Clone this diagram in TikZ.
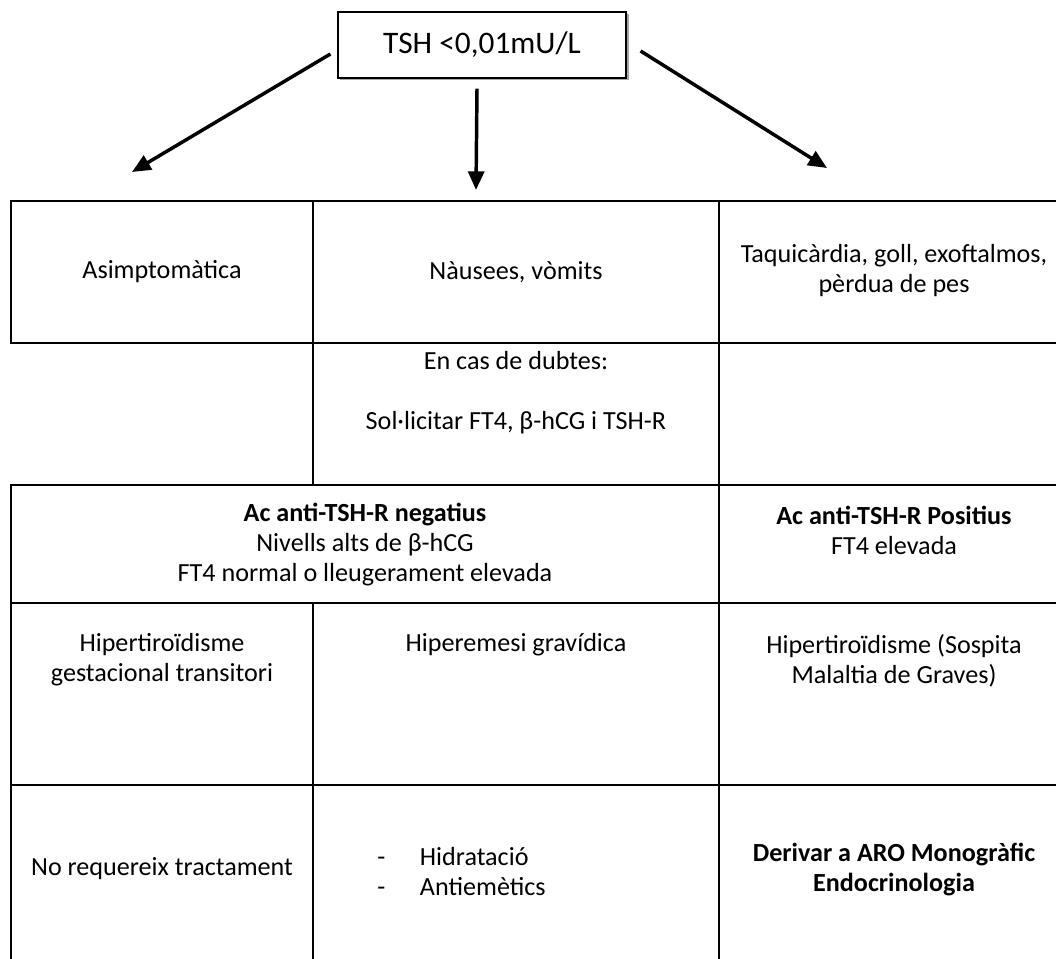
\documentclass[tikz,border=0pt]{standalone}
\usepackage{fontspec}
\setmainfont{Carlito}
\usetikzlibrary{arrows.meta,positioning}
\newcommand\cellfont{\fontsize{19.6}{22.5}\selectfont}
\begin{document}
\begin{tikzpicture}[x=0.75pt,y=-0.75pt,
  cell/.style={align=center, inner sep=0pt, font=\cellfont},
  rule/.style={line width=1.6pt, line cap=rect},
  arr/.style={line width=2.6pt, -{Triangle[length=14pt,width=12pt]}}]
\useasboundingbox (0,0) rectangle (1056,959);
\pgfmathsetmacro\colA{162}
\pgfmathsetmacro\colB{516}
\pgfmathsetmacro\colC{894}
\fill[gray!70] (340,14) rectangle (628.5,80.5);
\node[draw, fill=white, line width=0.9pt, minimum width=216pt, minimum height=49.5pt,
  cell, font=\fontsize{23.5}{26}\selectfont] (tsh) at (482,45) {TSH <0,01mU/L};
\coordinate (tipL) at (132,172);
\coordinate (tipM) at (476,190);
\coordinate (tipR) at (827,168);
\draw[arr] ([shift={(-7,9)}]tsh.west) -- (tipL);
\draw[arr] ([shift={(-5,10)}]tsh.south) -- (tipM);
\draw[arr] ([shift={(14,6)}]tsh.east) -- (tipR);
\foreach \y in {201,343,485,603,785} \draw[rule] (11,\y) -- (1060,\y);
\draw[rule] (11,201) -- (11,343) (11,485) -- (11,962);
\draw[rule] (313,201) -- (313,485) (313,603) -- (313,962);
\draw[rule] (719,201) -- (719,962);
\node[cell] (asim) at (\colA,272) {Asimptomàtica};
\node[cell] (naus) at (\colB,272) {Nàusees, vòmits};
\node[cell] (taqui) at (\colC,271) {Taquicàrdia, goll, exoftalmos,\\pèrdua de pes};
\node[cell] (dubtes) at (\colB,393) {En cas de dubtes:\\[22.5pt]Sol·licitar FT4, β-hCG i TSH-R};
\node[cell] (neg) at (365,545) {\textbf{Ac anti-TSH-R negatius}\\Nivells alts de β-hCG\\FT4 normal o lleugerament elevada};
\node[cell] (pos) at (\colC,530) {\textbf{Ac anti-TSH-R Positius}\\FT4 elevada};
\node[cell] (gest) at (\colA,660) {Hipertiroïdisme\\gestacional transitori};
\node[cell] (hiper) at (\colB,645) {Hiperemesi gravídica};
\node[cell] (graves) at (\colC,661) {Hipertiroïdisme (Sospita\\Malaltia de Graves)};
\node[cell] (notr) at (\colA,869) {No requereix tractament};
\node[cell, align=left, anchor=west] (tract) at (377,872) {-\hspace{26pt}Hidratació\\-\hspace{26pt}Antiemètics};
\node[cell] (deriv) at (\colC,870) {\textbf{Derivar a ARO Monogràfic}\\\textbf{Endocrinologia}};
\end{tikzpicture}
\end{document}
